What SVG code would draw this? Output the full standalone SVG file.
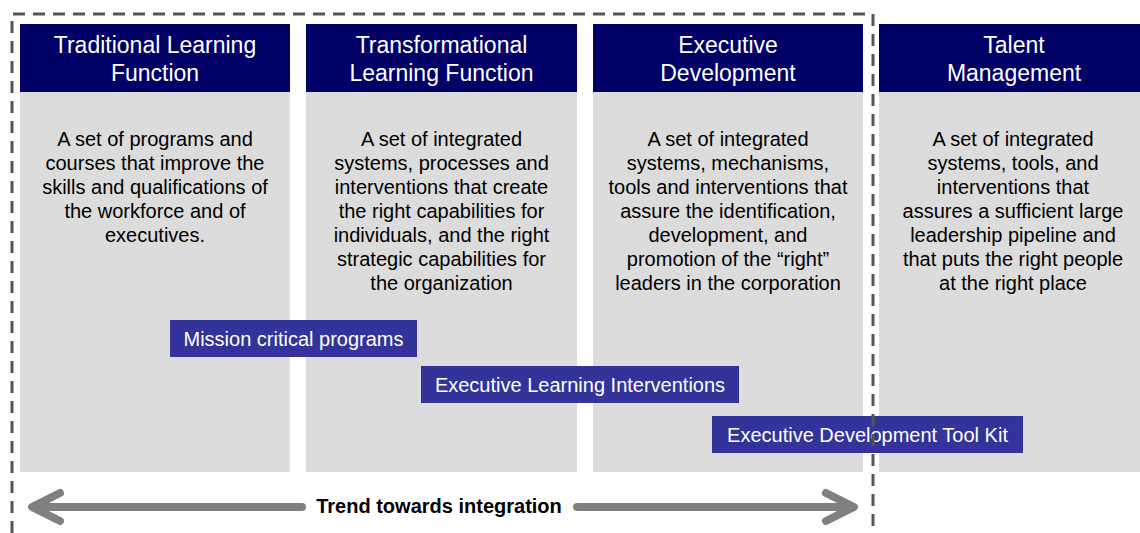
<svg xmlns="http://www.w3.org/2000/svg" width="1140" height="533" viewBox="0 0 1140 533">
<style>
.hd{fill:#000066}
.bd{fill:#DCDCDC}
.ht{font-family:"Liberation Sans",Arial,sans-serif;font-size:23px;fill:#fff;text-anchor:middle}
.bt{font-family:"Liberation Sans",Arial,sans-serif;font-size:20px;fill:#000;text-anchor:middle}
.pb{fill:#333399}
.pt{font-family:"Liberation Sans",Arial,sans-serif;font-size:20px;fill:#fff;text-anchor:middle}
.tr{font-family:"Liberation Sans",Arial,sans-serif;font-size:20px;font-weight:bold;fill:#000;text-anchor:middle}
.ar{stroke:#808080;stroke-width:8;fill:none;stroke-linecap:round;stroke-linejoin:round}
</style>
<rect width="1140" height="533" fill="#fff"/>
<g id="col1">
<rect class="hd" x="20" y="24" width="270" height="68"/>
<rect class="bd" x="20" y="92" width="270" height="380"/>
<text class="ht" x="155" y="53">Traditional Learning</text>
<text class="ht" x="155" y="81">Function</text>
<text class="bt" x="155" y="146">A set of programs and</text>
<text class="bt" x="155" y="170">courses that improve the</text>
<text class="bt" x="155" y="194">skills and qualifications of</text>
<text class="bt" x="155" y="218">the workforce and of</text>
<text class="bt" x="155" y="242">executives.</text>
</g>
<g id="col2">
<rect class="hd" x="306" y="24" width="271" height="68"/>
<rect class="bd" x="306" y="92" width="271" height="380"/>
<text class="ht" x="441.5" y="53">Transformational</text>
<text class="ht" x="441.5" y="81">Learning Function</text>
<text class="bt" x="441.5" y="146">A set of integrated</text>
<text class="bt" x="441.5" y="170">systems, processes and</text>
<text class="bt" x="441.5" y="194">interventions that create</text>
<text class="bt" x="441.5" y="218">the right capabilities for</text>
<text class="bt" x="441.5" y="242">individuals, and the right</text>
<text class="bt" x="441.5" y="266">strategic capabilities for</text>
<text class="bt" x="441.5" y="290">the organization</text>
</g>
<g id="col3">
<rect class="hd" x="593" y="24" width="270" height="68"/>
<rect class="bd" x="593" y="92" width="270" height="380"/>
<text class="ht" x="728" y="53">Executive</text>
<text class="ht" x="728" y="81">Development</text>
<text class="bt" x="728" y="146">A set of integrated</text>
<text class="bt" x="728" y="170">systems, mechanisms,</text>
<text class="bt" x="728" y="194">tools and interventions that</text>
<text class="bt" x="728" y="218">assure the identification,</text>
<text class="bt" x="728" y="242">development, and</text>
<text class="bt" x="728" y="266">promotion of the “right”</text>
<text class="bt" x="728" y="290">leaders in the corporation</text>
</g>
<g id="col4">
<rect class="hd" x="879" y="24" width="261" height="68"/>
<rect class="bd" x="879" y="92" width="261" height="380"/>
<text class="ht" x="1014" y="53">Talent</text>
<text class="ht" x="1014" y="81">Management</text>
<text class="bt" x="1013" y="146">A set of integrated</text>
<text class="bt" x="1013" y="170">systems, tools, and</text>
<text class="bt" x="1013" y="194">interventions that</text>
<text class="bt" x="1013" y="218">assures a sufficient large</text>
<text class="bt" x="1013" y="242">leadership pipeline and</text>
<text class="bt" x="1013" y="266">that puts the right people</text>
<text class="bt" x="1013" y="290">at the right place</text>
</g>
<g id="box-mission">
<rect class="pb" x="170" y="320" width="247" height="37"/>
<text class="pt" x="293.5" y="346">Mission critical programs</text>
</g>
<g id="box-eli">
<rect class="pb" x="421" y="366" width="318" height="37"/>
<text class="pt" x="580" y="392">Executive Learning Interventions</text>
</g>
<g id="box-edtk">
<rect class="pb" x="712" y="416" width="311" height="37"/>
<text class="pt" x="867.5" y="442">Executive Development Tool Kit</text>
</g>
<g id="frame">
<path d="M12,533 V14 H873 V533" fill="none" stroke="#555" stroke-width="3" stroke-dasharray="12 8"/>
</g>
<g id="connectors">
<path class="ar" d="M36,507 H302"/>
<path class="ar" d="M60,493 L32,507 L60,521"/>
<path class="ar" d="M577,507 H850"/>
<path class="ar" d="M826,493 L854,507 L826,521"/>
</g>
<text class="tr" x="439" y="513">Trend towards integration</text>
</svg>
